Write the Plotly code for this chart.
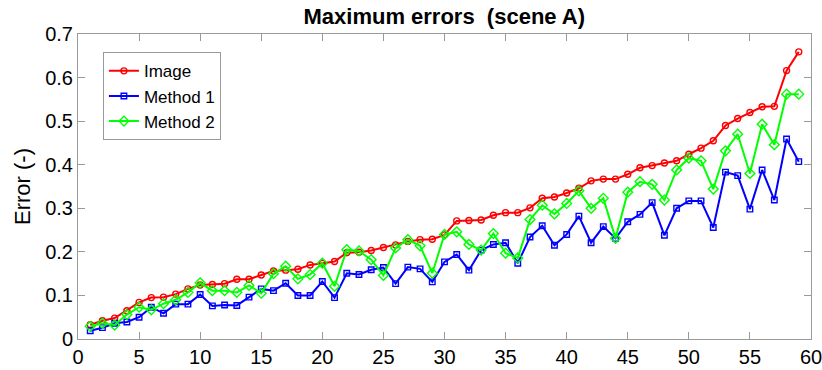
import plotly.graph_objects as go

# Test scene index
scene_idx = list(range(1, 60))

# Maximum error per scene for each approach
err_image = [
    0.033, 0.042, 0.048, 0.065, 0.084, 0.095, 0.096, 0.103, 0.115, 0.124,
    0.125, 0.127, 0.137, 0.137, 0.147, 0.156, 0.158, 0.160, 0.170, 0.174,
    0.178, 0.198, 0.199, 0.203, 0.210, 0.216, 0.224, 0.228, 0.229, 0.239,
    0.271, 0.272, 0.273, 0.284, 0.290, 0.290, 0.301, 0.323, 0.326, 0.335,
    0.346, 0.363, 0.367, 0.367, 0.378, 0.393, 0.398, 0.404, 0.409, 0.424,
    0.438, 0.455, 0.490, 0.506, 0.520, 0.533, 0.534, 0.616, 0.659,
]
err_method1 = [
    0.019, 0.026, 0.036, 0.039, 0.050, 0.073, 0.059, 0.080, 0.080, 0.102,
    0.076, 0.078, 0.077, 0.096, 0.115, 0.111, 0.128, 0.100, 0.100, 0.132,
    0.095, 0.151, 0.148, 0.159, 0.164, 0.127, 0.165, 0.161, 0.131, 0.177,
    0.194, 0.158, 0.204, 0.217, 0.221, 0.174, 0.234, 0.260, 0.215, 0.240,
    0.282, 0.221, 0.258, 0.231, 0.269, 0.286, 0.313, 0.238, 0.300, 0.317,
    0.317, 0.256, 0.383, 0.375, 0.298, 0.388, 0.319, 0.459, 0.407,
]
err_method2 = [
    0.029, 0.036, 0.032, 0.056, 0.073, 0.067, 0.081, 0.090, 0.107, 0.129,
    0.111, 0.111, 0.107, 0.123, 0.105, 0.150, 0.167, 0.138, 0.148, 0.174,
    0.121, 0.205, 0.202, 0.182, 0.146, 0.209, 0.228, 0.214, 0.151, 0.240,
    0.246, 0.217, 0.204, 0.242, 0.197, 0.186, 0.274, 0.307, 0.287, 0.311,
    0.340, 0.300, 0.323, 0.231, 0.337, 0.361, 0.355, 0.319, 0.388, 0.415,
    0.409, 0.344, 0.432, 0.470, 0.380, 0.493, 0.446, 0.562, 0.562,
]

series_names = ["Image", "Method 1", "Method 2"]
series_colors = ["#FF0000", "#0000FF", "#00FF00"]
series_symbols = ["circle-open", "square-open", "diamond-open"]
series_sizes = [6, 5.5, 7.5]
series_values = [err_image, err_method1, err_method2]

font_family = "Liberation Sans, Arial, sans-serif"

fig = go.Figure()
for name, color, sym, size, vals in zip(series_names, series_colors,
                                        series_symbols, series_sizes, series_values):
    fig.add_trace(go.Scatter(
        x=scene_idx, y=vals, name=name, mode="lines+markers",
        line=dict(color=color, width=2),
        marker=dict(symbol=sym, size=size, color=color,
                    line=dict(color=color, width=1.4)),
    ))

axis_common = dict(
    showgrid=False, zeroline=False, automargin=False,
    showline=True, linecolor="#9a9a9a", linewidth=1, mirror="ticks",
    ticks="inside", ticklen=7, tickcolor="#9a9a9a", tickwidth=1,
    ticklabeloverflow="allow",
    tickfont=dict(family=font_family, size=20, color="black"),
)

fig.update_xaxes(range=[0, 60], dtick=5, tick0=0, **axis_common)
fig.update_yaxes(range=[0, 0.7], dtick=0.1, tick0=0,
                 title=dict(text="Error (-)",
                            font=dict(family=font_family, size=22, color="black"),
                            standoff=8),
                 **axis_common)

fig.update_layout(
    width=822, height=370,
    margin=dict(l=78, r=11, t=34, b=31),
    paper_bgcolor="white", plot_bgcolor="white",
    title=dict(text="<b>Maximum errors  (scene A)</b>", x=0.5405, xanchor="center",
               y=0.955, yanchor="middle",
               font=dict(family=font_family, size=22, color="black")),
    legend=dict(x=0.034, y=0.94, xanchor="left", yanchor="top",
                bgcolor="white", bordercolor="#9a9a9a", borderwidth=1,
                font=dict(family=font_family, size=17, color="black"),
                itemwidth=30, tracegroupgap=0),
    showlegend=True,
)

fig.write_html("out.html")
